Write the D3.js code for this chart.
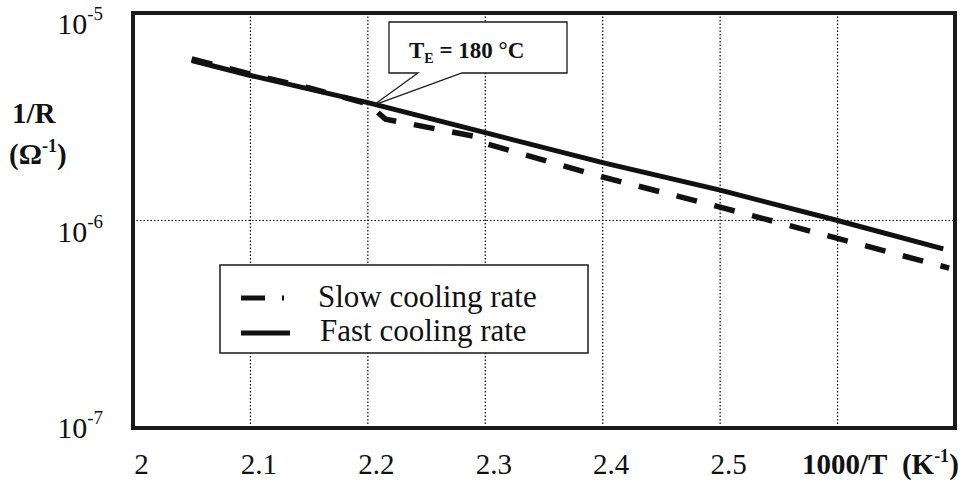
<!DOCTYPE html>
<html><head><meta charset="utf-8">
<script src="https://cdn.jsdelivr.net/npm/d3@7"></script>
<style>
body{margin:0;background:#fff;}
svg, svg text{font-family:"Liberation Serif","DejaVu Serif",serif;}
</style></head>
<body><svg id="c" width="974" height="482"></svg>
<script>
// ---- data ----
const fastX = [2.05, 2.1, 2.2, 2.3, 2.4, 2.5, 2.6, 2.69];
const fastY = [5.9e-6, 5.0e-6, 3.7e-6, 2.65e-6, 1.9e-6, 1.4e-6, 1.0e-6, 7.3e-7];
const slowX = [2.05, 2.1, 2.15, 2.2, 2.215, 2.29, 2.3, 2.4, 2.5, 2.6, 2.695];
const slowY = [6.0e-6, 5.08e-6, 4.35e-6, 3.65e-6, 3.08e-6, 2.55e-6, 2.35e-6, 1.62e-6, 1.16e-6, 8.2e-7, 5.9e-7];
const xTicks = [2, 2.1, 2.2, 2.3, 2.4, 2.5];
const xGrid = [2.1, 2.2, 2.3, 2.4, 2.5, 2.6];
const yTicks = [1e-5, 1e-6, 1e-7];
const yExps = ["-5", "-6", "-7"];
const legendLabels = ["Slow cooling rate", "Fast cooling rate"];
const calloutAt = [2.205, 3.6e-6];

// ---- layout ----
const L = 133, R = 955, T = 13, B = 428;
const FONT = "Liberation Serif, DejaVu Serif, serif";
const svg = d3.select("#c").attr("font-family", FONT);
const x = d3.scaleLinear().domain([2, 2.7]).range([L, R]);
const y = d3.scaleLog().domain([1e-7, 1e-5]).range([B, T]);

// gridlines
svg.append("g").selectAll("line").data(xGrid).join("line")
  .attr("x1", d => x(d)).attr("x2", d => x(d)).attr("y1", T).attr("y2", B)
  .attr("stroke", "#000").attr("stroke-width", 1.2).attr("stroke-dasharray", "1.5,2");
svg.append("line").attr("x1", L).attr("x2", R).attr("y1", y(1e-6)).attr("y2", y(1e-6))
  .attr("stroke", "#000").attr("stroke-width", 1.2).attr("stroke-dasharray", "1.5,2");

// data lines
const line = d3.line().x(d => x(d[0])).y(d => y(d[1]));
const fast = fastX.map((v, i) => [v, fastY[i]]);
const slow = slowX.map((v, i) => [v, slowY[i]]);
svg.append("path").datum(slow).attr("d", line).attr("fill", "none")
  .attr("stroke", "#111").attr("stroke-width", 5.5).attr("stroke-dasharray", "21,18");
svg.append("path").datum(fast).attr("d", line).attr("fill", "none")
  .attr("stroke", "#111").attr("stroke-width", 5);

// frame
svg.append("rect").attr("x", L).attr("y", T).attr("width", R - L).attr("height", B - T)
  .attr("fill", "none").attr("stroke", "#1a1a1a").attr("stroke-width", 4);

// y tick labels
const yl = svg.append("g").selectAll("text").data(yTicks).join("text")
  .attr("font-family", FONT)
  .attr("x", 103).attr("y", d => Math.min(y(d) + 21, 438))
  .attr("text-anchor", "end").attr("font-size", 30).attr("fill", "#111");
yl.append("tspan").text("10");
yl.append("tspan").attr("font-size", 19).attr("dy", -14).text((d, i) => yExps[i]);

// x tick labels
svg.append("g").selectAll("text").data(xTicks).join("text")
  .attr("font-family", FONT)
  .attr("x", d => x(d) + 8.5).attr("y", 474).attr("text-anchor", "middle")
  .attr("font-size", 29).attr("fill", "#111").text(d => d3.format(".1~f")(d));

// x axis title
const xt = svg.append("text").attr("font-family", FONT).attr("x", 802).attr("y", 474).attr("font-size", 29)
  .attr("font-weight", "bold").attr("fill", "#111");
xt.append("tspan").text("1000/T\u00a0\u00a0(K");
xt.append("tspan").attr("font-size", 18).attr("dy", -12).text("-1");
xt.append("tspan").attr("dy", 12).text(")");

// y axis title
svg.append("text").attr("font-family", FONT).attr("x", 12).attr("y", 123).attr("font-size", 29)
  .attr("font-weight", "bold").attr("fill", "#111").text("1/R");
const yt = svg.append("text").attr("font-family", FONT).attr("x", 9).attr("y", 164).attr("font-size", 29)
  .attr("font-weight", "bold").attr("fill", "#111");
yt.append("tspan").text("(\u03a9");
yt.append("tspan").attr("font-size", 18).attr("dy", -12).text("-1");
yt.append("tspan").attr("dy", 12).text(")");

// callout
const cx = x(calloutAt[0]), cy = y(calloutAt[1]);
svg.append("path")
  .attr("d", `M389,22 H567 V73 H462 L${cx},${cy} L418,73 H389 Z`)
  .attr("fill", "#fff").attr("stroke", "#1a1a1a").attr("stroke-width", 1.3);
const ct = svg.append("text").attr("font-family", FONT).attr("x", 409).attr("y", 58).attr("font-size", 23)
  .attr("font-weight", "bold").attr("fill", "#111");
ct.append("tspan").text("T");
ct.append("tspan").attr("font-size", 14).attr("dy", 5).text("E");
ct.append("tspan").attr("dy", -5).text(" = 180 \u00b0C");

// legend
svg.append("rect").attr("x", 220).attr("y", 265).attr("width", 368).attr("height", 88)
  .attr("fill", "#fff").attr("stroke", "#1a1a1a").attr("stroke-width", 1.5);
svg.append("line").attr("x1", 241).attr("x2", 265).attr("y1", 298).attr("y2", 298)
  .attr("stroke", "#111").attr("stroke-width", 5);
svg.append("line").attr("x1", 282).attr("x2", 284).attr("y1", 298).attr("y2", 298)
  .attr("stroke", "#111").attr("stroke-width", 5);
svg.append("line").attr("x1", 241).attr("x2", 290).attr("y1", 333).attr("y2", 333)
  .attr("stroke", "#111").attr("stroke-width", 5);
svg.append("g").selectAll("text").data(legendLabels).join("text")
  .attr("font-family", FONT)
  .attr("x", (d, i) => i === 0 ? 318 : 320).attr("y", (d, i) => 307 + i * 34)
  .attr("font-size", 31).attr("fill", "#111").text(d => d);
</script></body></html>
